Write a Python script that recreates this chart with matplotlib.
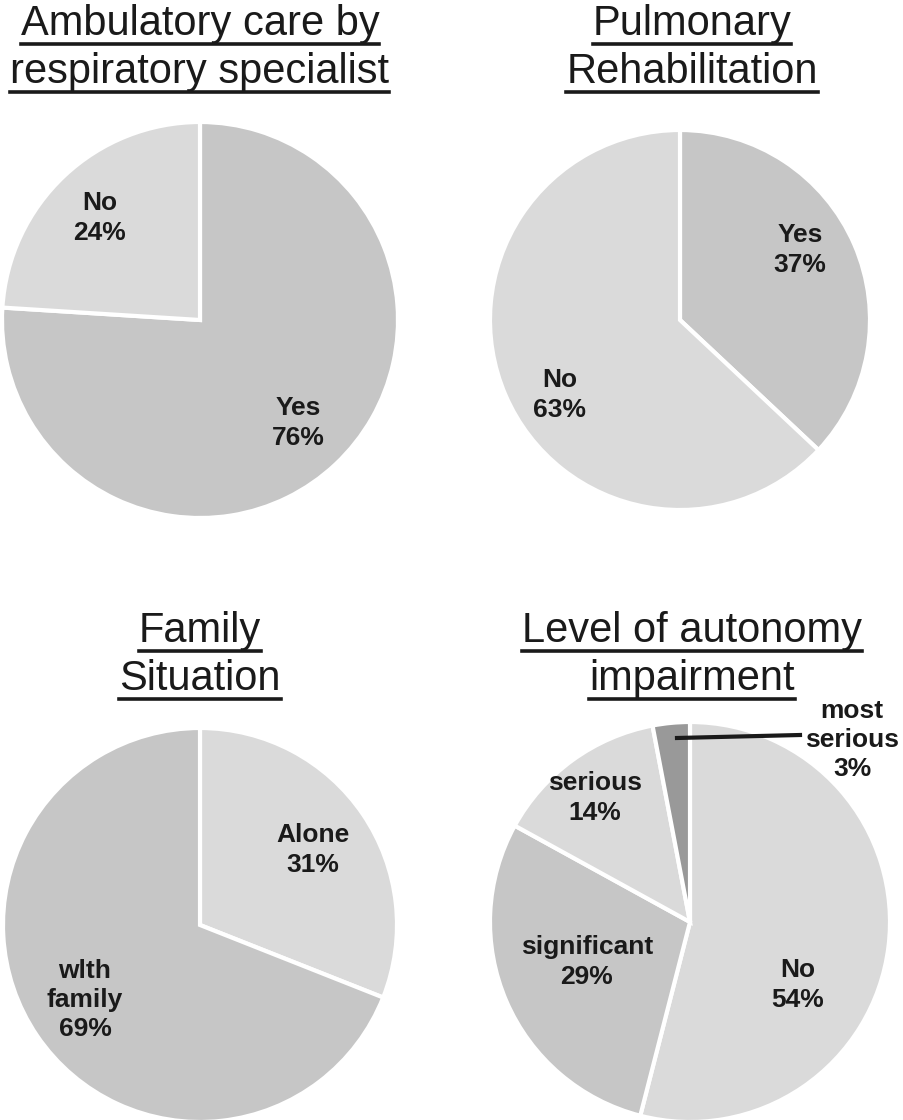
import matplotlib
matplotlib.use('Agg')
import matplotlib.pyplot as plt
from matplotlib.lines import Line2D

plt.rcParams['font.family'] = ['Liberation Sans', 'DejaVu Sans']

W, H = 904, 1120

# data
titulos = [
    ["Ambulatory care by", "respiratory specialist"],
    ["Pulmonary", "Rehabilitation"],
    ["Family", "Situation"],
    ["Level of autonomy", "impairment"],
]
amb_rotulos = ["Yes", "No"]
amb_valores = [76, 24]
pulm_rotulos = ["Yes", "No"]
pulm_valores = [37, 63]
fam_rotulos = ["Alone", "wlth\nfamily"]
fam_valores = [31, 69]
aut_rotulos = ["No", "significant", "serious", "most\nserious"]
aut_valores = [54, 29, 14, 3]

CLARO = '#dadada'
MEDIO = '#c6c6c6'
ESCURO = '#999999'
TEXTO = '#1a1a1a'

# layout em pixels: centro x, centro y, raio, cores, posicoes dos rotulos
graficos = [
    dict(rot=amb_rotulos, val=amb_valores, c=(200, 320), r=198,
         cores=[MEDIO, CLARO], pos=[(298, 423), (100, 218)],
         titulo_x=200, titulo_y=(35, 83)),
    dict(rot=pulm_rotulos, val=pulm_valores, c=(680, 320), r=190,
         cores=[MEDIO, CLARO], pos=[(800, 250), (560, 395)],
         titulo_x=692, titulo_y=(35, 83)),
    dict(rot=fam_rotulos, val=fam_valores, c=(200, 925), r=197,
         cores=[CLARO, MEDIO], pos=[(313, 850), (85, 1000)],
         titulo_x=200, titulo_y=(642, 690)),
    dict(rot=aut_rotulos, val=aut_valores, c=(690, 922), r=200,
         cores=[CLARO, MEDIO, CLARO, ESCURO],
         pos=[(798, 985), (587, 962), (595, 798), (852, 740)],
         titulo_x=692, titulo_y=(642, 690)),
]


def fx(px):
    return px / W


def fy(py):
    return 1 - py / H


fig = plt.figure(figsize=(W / 100, H / 100), dpi=100)

textos_titulo = []
for g, tit in zip(graficos, titulos):
    cx, cy = g['c']
    r = g['r']
    ax = fig.add_axes([fx(cx - r), fy(cy + r), 2 * r / W, 2 * r / H])
    ax.pie(g['val'], colors=g['cores'], startangle=90, counterclock=False,
           wedgeprops=dict(edgecolor='white', linewidth=3))
    ax.set_xlim(-1, 1)
    ax.set_ylim(-1, 1)
    ax.set_aspect('auto')
    ax.axis('off')

    for rot, v, (px, py) in zip(g['rot'], g['val'], g['pos']):
        fig.text(fx(px), fy(py), f"{rot}\n{v}%", ha='center', va='center',
                 fontsize=19, fontweight='bold', color=TEXTO, linespacing=1.28)

    for linha, ty in zip(tit, g['titulo_y']):
        t = fig.text(fx(g['titulo_x']), fy(ty), linha, ha='center',
                     va='baseline', fontsize=30, color=TEXTO)
        textos_titulo.append((t, ty))

# linha guia do "most serious"
fig.add_artist(Line2D([fx(677), fx(800)], [fy(738), fy(735)],
                      color=TEXTO, linewidth=3))

# sublinhado dos titulos
fig.canvas.draw()
renderer = fig.canvas.get_renderer()
for t, ty in textos_titulo:
    bb = t.get_window_extent(renderer)
    yl = fy(ty + 9)
    fig.add_artist(Line2D([bb.x0 / W, bb.x1 / W], [yl, yl],
                          color=TEXTO, linewidth=2.6))

fig.savefig('out.png', dpi=100, facecolor='white')
